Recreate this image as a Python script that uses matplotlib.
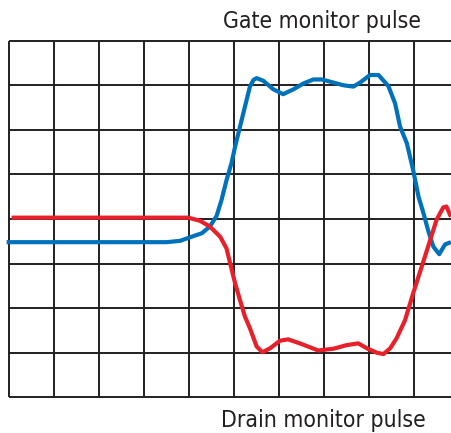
"""Gate and drain monitor pulses on a scope-style grid (out.png)."""

import matplotlib

matplotlib.use("Agg")
import matplotlib.pyplot as plt  # noqa: E402

BLUE = "#0072BC"
RED = "#E8202A"
INK = "#231F20"

# positions in grid divisions (x: 0..9.8, y: 0..8)
gate_x = [-0.06, 3.13, 3.50, 3.80, 4.02, 4.28, 4.46, 4.61, 4.72, 4.83, 4.94, 5.02, 5.13,
          5.24, 5.35, 5.43, 5.50, 5.65, 5.87, 6.09, 6.32, 6.54, 6.76, 6.95, 7.21, 7.43,
          7.65, 7.80, 8.02, 8.21, 8.43, 8.58, 8.69, 8.84, 8.98, 9.10, 9.21, 9.32, 9.43,
          9.56, 9.69, 9.82]
gate_y = [3.48, 3.48, 3.48, 3.51, 3.59, 3.68, 3.83, 4.07, 4.43, 4.87, 5.25, 5.62, 6.07,
          6.52, 6.97, 7.12, 7.16, 7.10, 6.91, 6.80, 6.91, 7.04, 7.13, 7.13, 7.06, 7.00,
          6.97, 7.06, 7.23, 7.23, 6.98, 6.59, 6.07, 5.70, 5.10, 4.50, 4.13, 3.72, 3.38,
          3.21, 3.43, 3.48]

drain_x = [0.05, 3.98, 4.24, 4.46, 4.69, 4.83, 4.91, 5.02, 5.13, 5.24, 5.35, 5.50, 5.63,
           5.80, 6.02, 6.20, 6.46, 6.87, 7.21, 7.50, 7.76, 7.95, 8.17, 8.32, 8.47, 8.61,
           8.80, 8.98, 9.17, 9.36, 9.50, 9.65, 9.72, 9.82]
drain_y = [4.03, 4.03, 3.96, 3.83, 3.60, 3.34, 3.01, 2.56, 2.18, 1.81, 1.55, 1.14, 1.01,
           1.10, 1.27, 1.30, 1.21, 1.05, 1.09, 1.17, 1.21, 1.10, 1.00, 0.97, 1.10, 1.32,
           1.73, 2.33, 2.93, 3.53, 3.98, 4.26, 4.28, 4.05]

fig = plt.figure(figsize=(4.51, 4.33), dpi=100)
ax = fig.add_axes([0, 0, 1, 1])
ax.set_xlim(-0.207, 9.822)
ax.set_ylim(-0.801, 8.913)
ax.axis("off")

# grid
ax.vlines(range(10), 0, 8, color=INK, lw=1.4)
ax.hlines(range(9), 0, 9.9, color=INK, lw=1.4)

ax.plot(gate_x, gate_y, color=BLUE, lw=3.0, solid_capstyle="butt", solid_joinstyle="round")
ax.plot(drain_x, drain_y, color=RED, lw=3.0, solid_capstyle="butt", solid_joinstyle="round")

label = dict(transform=ax.transAxes, ha="center", va="center", fontsize=16.5,
             color=INK, family="DejaVu Sans", fontstretch="condensed")
ax.text(0.714, 0.951, "Gate monitor pulse", **label)
ax.text(0.716, 0.029, "Drain monitor pulse", **label)

fig.savefig("out.png", dpi=100)
